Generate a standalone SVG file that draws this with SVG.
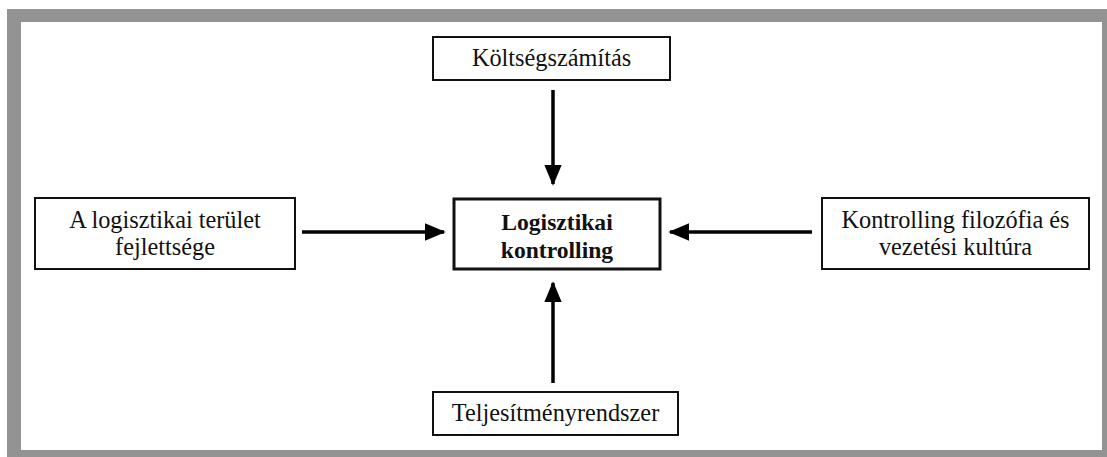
<svg xmlns="http://www.w3.org/2000/svg" width="1107" height="457" viewBox="0 0 1107 457">
<style>
.box{fill:#fff;stroke:#111;stroke-width:2}
.main{fill:#fff;stroke:#111;stroke-width:3}
.t{font-size:24.3px;fill:#111;text-anchor:middle}
.b{font-weight:bold;font-size:23.6px}
.c{stroke:#000;stroke-width:3.5;fill:none;marker-end:url(#ah)}
</style>
<defs>
<marker id="ah" markerWidth="6" markerHeight="5" refX="5.5" refY="2.5" orient="auto" markerUnits="strokeWidth">
<path d="M0,0 L6,2.5 L0,5 Z" fill="#000"/>
</marker>
</defs>
<rect x="7" y="9" width="1100" height="448" fill="#939393"/>
<rect x="21" y="22" width="1081" height="428" fill="#fff"/>
<g id="connectors">
<line class="c" x1="553" y1="90" x2="553" y2="184"/>
<line class="c" x1="553" y1="383" x2="553" y2="283"/>
<line class="c" x1="302" y1="232" x2="444" y2="232"/>
<line class="c" x1="812" y1="232" x2="670" y2="232"/>
</g>
<g font-family="Liberation Serif, Tinos, DejaVu Serif, serif">
<g id="top">
<rect class="box" x="433" y="37" width="237" height="43"/>
<text class="t" x="551.5" y="66">Költségszámítás</text>
</g>
<g id="left">
<rect class="box" x="35" y="198" width="260" height="71"/>
<text class="t" x="165" y="228">A logisztikai terület</text>
<text class="t" x="165" y="255">fejlettsége</text>
</g>
<g id="center">
<rect class="main" x="454" y="199" width="206" height="70"/>
<text class="t b" x="557" y="230">Logisztikai</text>
<text class="t b" x="557" y="258">kontrolling</text>
</g>
<g id="right">
<rect class="box" x="822" y="198" width="267" height="71"/>
<text class="t" x="955.5" y="228">Kontrolling filozófia és</text>
<text class="t" x="955.5" y="255">vezetési kultúra</text>
</g>
<g id="bottom">
<rect class="box" x="433" y="392" width="245" height="43"/>
<text class="t" x="555.5" y="421">Teljesítményrendszer</text>
</g>
</g>
</svg>
